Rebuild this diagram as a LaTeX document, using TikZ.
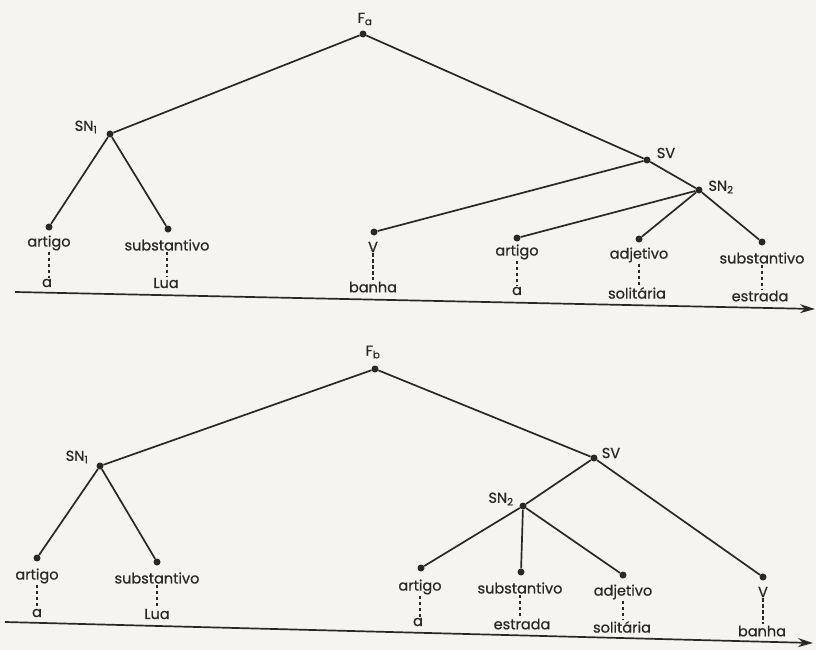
\documentclass[tikz,border=0pt]{standalone}
\usepackage{fontspec}
\setmainfont{Poppins}
\newfontfamily\treefont{Poppins}[FakeBold=0.7]
\usetikzlibrary{arrows.meta}
\definecolor{ink}{RGB}{40,40,40}
\definecolor{paper}{RGB}{246,244,240}
\tikzset{
	dot/.style={circle, fill=ink, inner sep=0pt, minimum size=7pt},
	cat/.style={inner sep=1pt, text=ink, font=\treefont\fontsize{14.5}{16}\selectfont},
	word/.style={cat},
	branch/.style={draw=ink, line width=1.7pt},
	link/.style={draw=ink, line width=1.4pt, dash pattern=on 3.5pt off 2.5pt},
	axis/.style={draw=ink, line width=1.7pt, -{Stealth[length=15pt, width=9pt]}}
}

\begin{document}
\begin{tikzpicture}[x=1pt, y=-1pt]
		\fill[paper] (0,0) rectangle (816,650);
		% first tree
		\node[dot] (fa) at (363,34) {};
		\node[dot] (snA) at (110,134) {};
		\node[dot] (artA) at (49,227) {};
		\node[dot] (subA) at (168,229) {};
		\node[dot] (vA) at (374,232) {};
		\node[dot] (svA) at (647,160) {};
		\node[dot] (snB) at (699,190) {};
		\node[dot] (artB) at (517,238) {};
		\node[dot] (adjB) at (639,239) {};
		\node[dot] (subB) at (762,242) {};
		\draw[branch] (fa) -- (snA);
		\draw[branch] (fa) -- (svA);
		\draw[branch] (snA) -- (artA);
		\draw[branch] (snA) -- (subA);
		\draw[branch] (svA) -- (vA);
		\draw[branch] (svA) -- (snB);
		\draw[branch] (snB) -- (artB);
		\draw[branch] (snB) -- (adjB);
		\draw[branch] (snB) -- (subB);
		\node[cat] (lfa) at (365,19) {F\textsubscript{a}};
		\node[cat] (lsnA) at (86,127) {SN\textsubscript{1}};
		\node[cat] (lsvA) at (666,153) {SV};
		\node[cat] (lsnB) at (721,187) {SN\textsubscript{2}};
		\node[cat] (lartA) at (49,243) {artigo};
		\node[cat] (lsubA) at (167,245) {substantivo};
		\node[cat] (lvA) at (373,247) {V};
		\node[cat] (lartB) at (517,252) {artigo};
		\node[cat] (ladjB) at (639,255) {adjetivo};
		\node[cat] (lsubB) at (762,258) {substantivo};
		\node[word] (wartA) at (47,283) {a};
		\node[word] (wsubA) at (166,283) {Lua};
		\node[word] (wvA) at (373,287) {banha};
		\node[word] (wartB) at (517,291) {a};
		\node[word] (wadjB) at (637,293) {solitária};
		\node[word] (wsubB) at (760,296) {estrada};
		\foreach \c/\w in {lartA/wartA, lsubA/wsubA, lvA/wvA, lartB/wartB, ladjB/wadjB, lsubB/wsubB}
			\draw[link] (\c.south) -- (\c.south |- \w.north);
		\coordinate (axA0) at (15,292);
		\coordinate (axA1) at (815,309);
		\draw[axis] (axA0) -- (axA1);
		% second tree
		\node[dot] (fb) at (375,369) {};
		\node[dot] (snC) at (100,466) {};
		\node[dot] (artC) at (37,558) {};
		\node[dot] (subC) at (157,562) {};
		\node[dot] (svC) at (594,458) {};
		\node[dot] (snD) at (523,506) {};
		\node[dot] (artD) at (421,568) {};
		\node[dot] (subD) at (521,572) {};
		\node[dot] (adjD) at (623,575) {};
		\node[dot] (vD) at (763,577) {};
		\draw[branch] (fb) -- (snC);
		\draw[branch] (fb) -- (svC);
		\draw[branch] (snC) -- (artC);
		\draw[branch] (snC) -- (subC);
		\draw[branch] (svC) -- (snD);
		\draw[branch] (svC) -- (vD);
		\draw[branch] (snD) -- (artD);
		\draw[branch] (snD) -- (subD);
		\draw[branch] (snD) -- (adjD);
		\node[cat] (lfb) at (373,352) {F\textsubscript{b}};
		\node[cat] (lsnC) at (77,457) {SN\textsubscript{1}};
		\node[cat] (lsvC) at (611,453) {SV};
		\node[cat] (lsnD) at (501,499) {SN\textsubscript{2}};
		\node[cat] (lartC) at (37,576) {artigo};
		\node[cat] (lsubC) at (157,578) {substantivo};
		\node[cat] (lartD) at (420,587) {artigo};
		\node[cat] (lsubD) at (520,588) {substantivo};
		\node[cat] (ladjD) at (623,592) {adjetivo};
		\node[cat] (lvD) at (763,592) {V};
		\node[word] (wartC) at (37,613) {a};
		\node[word] (wsubC) at (157,614) {Lua};
		\node[word] (wartD) at (418,622) {a};
		\node[word] (wsubD) at (522,624) {estrada};
		\node[word] (wadjD) at (622,627) {solitária};
		\node[word] (wvD) at (762,631) {banha};
		\foreach \c/\w in {lartC/wartC, lsubC/wsubC, lartD/wartD, lsubD/wsubD, ladjD/wadjD, lvD/wvD}
			\draw[link] (\c.south) -- (\c.south |- \w.north);
		\coordinate (axB0) at (5,622);
		\coordinate (axB1) at (813,643);
		\draw[axis] (axB0) -- (axB1);
\end{tikzpicture}
\end{document}
